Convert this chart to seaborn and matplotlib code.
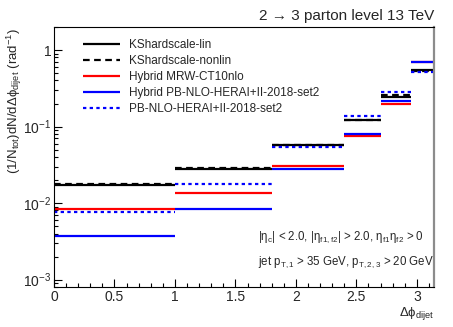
import matplotlib
matplotlib.use("Agg")
import matplotlib.pyplot as plt
import numpy as np
import seaborn as sns
from matplotlib.ticker import FixedLocator, FixedFormatter, MultipleLocator

sns.set_theme(style="ticks")
plt.rcParams["font.family"] = ["Liberation Sans", "DejaVu Sans"]
plt.rcParams["mathtext.fontset"] = "custom"
plt.rcParams["mathtext.rm"] = "Liberation Sans"
plt.rcParams["mathtext.it"] = "Liberation Sans:italic"
plt.rcParams["mathtext.default"] = "rm"

# bin edges in delta phi (rad)
bin_edges = [0.0, 1.0, 1.8, 2.4, 2.7, 2.95, np.pi]

# normalised cross sections per bin
ks_lin = [0.0172, 0.0282, 0.0577, 0.120, 0.243, 0.543]
ks_nonlin = [0.0175, 0.0285, 0.0570, 0.123, 0.261, 0.535]
hybrid_mrw = [0.00834, 0.0134, 0.0308, 0.0763, 0.199, 0.690]
hybrid_pb = [0.00373, 0.0083, 0.0279, 0.0796, 0.213, 0.692]
pb_nlo = [0.00755, 0.01775, 0.0538, 0.1355, 0.283, 0.515]

series = [
    ("KShardscale-lin", ks_lin, "black", "-"),
    ("KShardscale-nonlin", ks_nonlin, "black", (0, (3, 2))),
    ("Hybrid MRW-CT10nlo", hybrid_mrw, "#ff0000", "-"),
    ("Hybrid PB-NLO-HERAI+II-2018-set2", hybrid_pb, "#0000ff", "-"),
    ("PB-NLO-HERAI+II-2018-set2", pb_nlo, "#0000ff", (0, (1.5, 1.5))),
]

y_ticks = [1e-3, 1e-2, 1e-1, 1.0]
y_tick_labels = [r"$10^{-3}$", r"$10^{-2}$", r"$10^{-1}$", "1"]
x_ticks = [0, 0.5, 1, 1.5, 2, 2.5, 3]
x_tick_labels = ["0", "0.5", "1", "1.5", "2", "2.5", "3"]

fig = plt.figure(figsize=(4.53, 3.27), dpi=100)
ax = fig.add_axes([54 / 453, 1 - 287 / 327, 380 / 453, 260 / 327])

lo = np.array(bin_edges[:-1])
hi = np.array(bin_edges[1:])
for label, vals, color, ls in series:
    ax.hlines(vals, lo, hi, colors=color, linestyles=ls, linewidth=1.6, label=label)

ax.set_yscale("log")
ax.set_xlim(0, np.pi)
ax.set_ylim(8e-4, 2.0)

ax.yaxis.set_major_locator(FixedLocator(y_ticks))
ax.yaxis.set_major_formatter(FixedFormatter(y_tick_labels))
ax.xaxis.set_major_locator(FixedLocator(x_ticks))
ax.xaxis.set_major_formatter(FixedFormatter(x_tick_labels))
ax.xaxis.set_minor_locator(MultipleLocator(0.1))
ax.tick_params(which="both", direction="in", top=False, right=False,
               labelsize=10, color="black")
ax.tick_params(which="major", length=6, width=0.8, pad=2)
ax.tick_params(which="minor", length=3, width=0.8)

for side in ["left", "bottom", "top"]:
    ax.spines[side].set_color("black")
    ax.spines[side].set_linewidth(0.8)
ax.spines["right"].set_color("#8c8c8c")
ax.spines["right"].set_linewidth(1.6)

ax.set_title("2 \u2192 3 parton level 13 TeV", loc="right", fontsize=11, pad=5)
ax.set_xlabel(r"$\Delta\phi_{\rm dijet}$", loc="right", fontsize=9.5, labelpad=1)
fig.text(14 / 453, 1 - 28 / 327,
         r"$(1/N_{\rm tot})dN/d\Delta\phi_{\rm dijet}$ (rad$^{-1}$)",
         rotation=90, ha="center", va="top", fontsize=9.5)

ax.text(0.537, 0.19,
        r"|$\eta_{\rm c}$| < 2.0, |$\eta_{\rm f1,f2}$| > 2.0, $\eta_{\rm f1}\eta_{\rm f2}$ > 0",
        transform=ax.transAxes, fontsize=8.3, ha="left", va="center")
ax.text(0.537, 0.095,
        r"jet p$_{\rm T,1}$ > 35 GeV, p$_{\rm T,2,3}$ > 20 GeV",
        transform=ax.transAxes, fontsize=8.3, ha="left", va="center")

ax.legend(loc="upper left", bbox_to_anchor=(0.075, 0.955), frameon=False,
          fontsize=8.5, handlelength=3.2, handletextpad=0.7,
          labelspacing=0.35, borderpad=0, borderaxespad=0)

fig.savefig("out.png", dpi=100)
